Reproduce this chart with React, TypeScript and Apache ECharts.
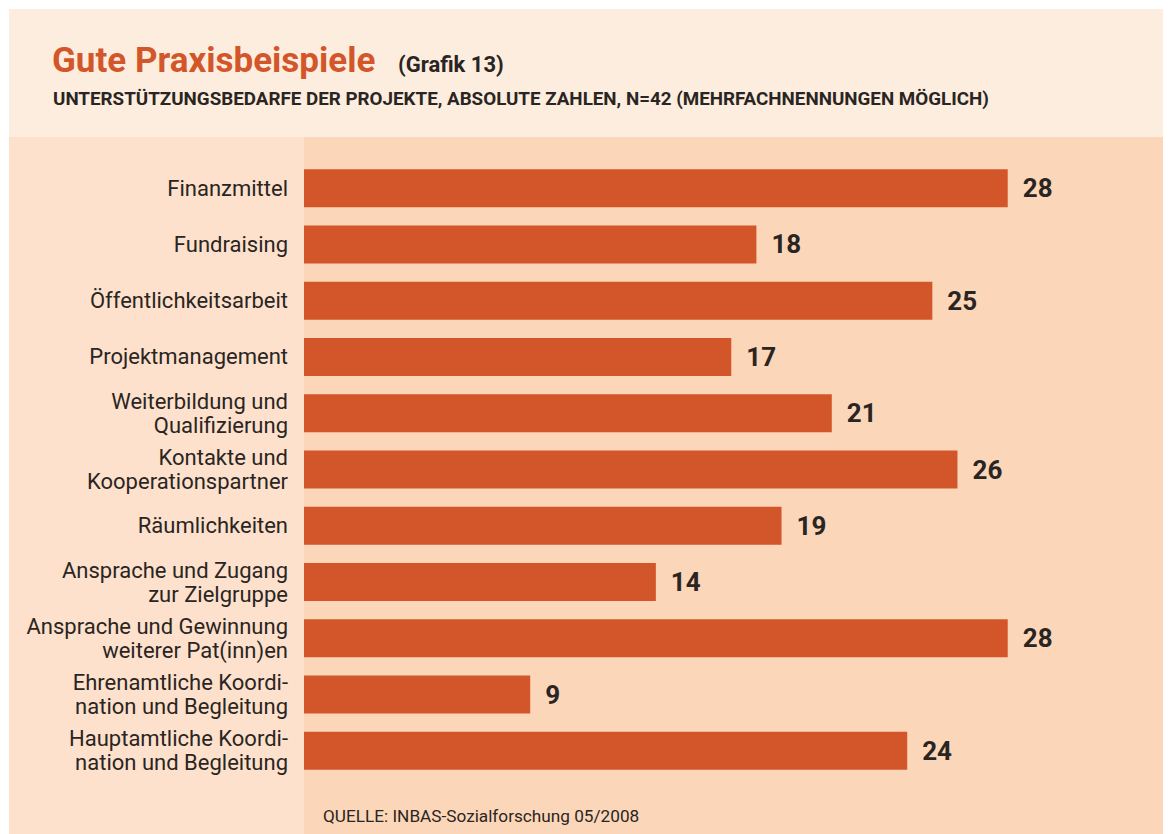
import React, { useEffect, useRef } from "react";
import * as echarts from "echarts";

const categories: string[] = [
  "Finanzmittel",
  "Fundraising",
  "Öffentlichkeitsarbeit",
  "Projektmanagement",
  "Weiterbildung und\nQualifizierung",
  "Kontakte und\nKooperationspartner",
  "Räumlichkeiten",
  "Ansprache und Zugang\nzur Zielgruppe",
  "Ansprache und Gewinnung\nweiterer Pat(inn)en",
  "Ehrenamtliche Koordi-\nnation und Begleitung",
  "Hauptamtliche Koordi-\nnation und Begleitung",
];

const values: number[] = [28, 18, 25, 17, 21, 26, 19, 14, 28, 9, 24];

const titleText = "Gute Praxisbeispiele";
const grafikText = "(Grafik 13)";
const subtitleText =
  "UNTERSTÜTZUNGSBEDARFE DER PROJEKTE, ABSOLUTE ZAHLEN, N=42 (MEHRFACHNENNUNGEN MÖGLICH)";
const sourceText = "QUELLE: INBAS-Sozialforschung 05/2008";

const FONT = "Roboto, 'Noto Sans', sans-serif";
const ORANGE = "#d3562a";
const DARK = "#2a2522";

export default function App() {
  const ref = useRef<HTMLDivElement>(null);

  useEffect(() => {
    if (!ref.current) return;
    const chart = echarts.init(ref.current, undefined, { renderer: "svg" });
    chart.setOption({
      animation: false,
      backgroundColor: "#ffffff",
      textStyle: { fontFamily: FONT },
      graphic: [
        {
          type: "rect",
          z: -10,
          shape: { x: 1, y: 1, width: 1162, height: 128 },
          style: { fill: "#fdeddf" },
        },
        {
          type: "rect",
          z: -10,
          shape: { x: 1, y: 129, width: 295, height: 697 },
          style: { fill: "#fde1cc" },
        },
        {
          type: "rect",
          z: -10,
          shape: { x: 296, y: 129, width: 867, height: 697 },
          style: { fill: "#fbd6b9" },
        },
        {
          type: "text",
          x: 44,
          y: 52,
          style: {
            text: titleText,
            fill: ORANGE,
            font: `bold 35px ${FONT}`,
            textVerticalAlign: "middle",
          },
        },
        {
          type: "text",
          x: 390,
          y: 56,
          style: {
            text: grafikText,
            fill: DARK,
            font: `bold 22px ${FONT}`,
            textVerticalAlign: "middle",
          },
        },
        {
          type: "text",
          x: 45,
          y: 91,
          style: {
            text: subtitleText,
            fill: DARK,
            font: `bold 18.8px ${FONT}`,
            textVerticalAlign: "middle",
          },
        },
        {
          type: "text",
          x: 315,
          y: 808,
          style: {
            text: sourceText,
            fill: DARK,
            font: `17.2px ${FONT}`,
            textVerticalAlign: "middle",
          },
        },
      ],
      grid: {
        left: 296,
        top: 152,
        right: 113,
        bottom: 55,
        containLabel: false,
      },
      xAxis: {
        type: "value",
        min: 0,
        max: 30,
        show: false,
        splitLine: { show: false },
      },
      yAxis: {
        type: "category",
        inverse: true,
        data: categories,
        axisLine: { show: false },
        axisTick: { show: false },
        splitLine: { show: false },
        axisLabel: {
          margin: 16,
          color: DARK,
          fontSize: 22,
          lineHeight: 24,
          fontFamily: FONT,
          align: "right",
        },
      },
      series: [
        {
          type: "bar",
          data: values,
          barWidth: 38,
          itemStyle: { color: ORANGE },
          label: {
            show: true,
            position: "right",
            distance: 15,
            color: DARK,
            fontSize: 26,
            fontWeight: "bold",
            fontFamily: FONT,
          },
        },
      ],
    });
    return () => chart.dispose();
  }, []);

  return <div ref={ref} style={{ width: 1163, height: 826 }} />;
}
